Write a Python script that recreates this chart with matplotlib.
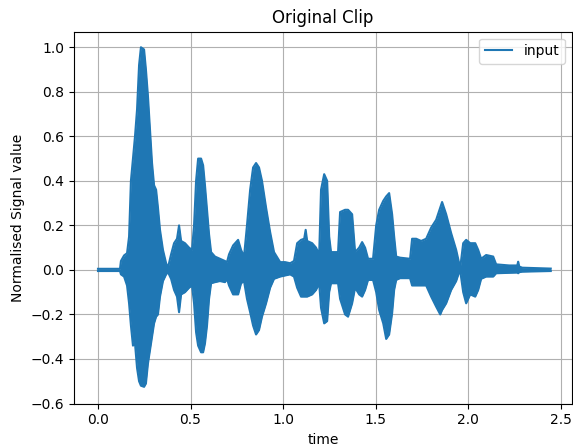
import matplotlib
matplotlib.use("Agg")
import matplotlib.pyplot as plt
import numpy as np

# Envelope of the audio clip (time in s, upper / lower normalised value)
time = [0.000, 0.119, 0.124, 0.141, 0.157, 0.168, 0.178, 0.189, 0.200, 0.211,
        0.222, 0.232, 0.249, 0.259, 0.270, 0.281, 0.292, 0.303, 0.314, 0.324,
        0.335, 0.351, 0.368, 0.378, 0.395, 0.411, 0.427, 0.438, 0.449, 0.470,
        0.492, 0.508, 0.519, 0.530, 0.541, 0.557, 0.568, 0.578, 0.589, 0.600,
        0.611, 0.632, 0.659, 0.686, 0.697, 0.708, 0.730, 0.757, 0.773, 0.789,
        0.805, 0.822, 0.838, 0.854, 0.870, 0.886, 0.908, 0.930, 0.951, 0.984,
        1.011, 1.038, 1.059, 1.076, 1.097, 1.114, 1.122, 1.130, 1.157, 1.178,
        1.195, 1.205, 1.222, 1.238, 1.249, 1.259, 1.297, 1.308, 1.335, 1.351,
        1.373, 1.389, 1.411, 1.427, 1.443, 1.459, 1.486, 1.503, 1.519, 1.541,
        1.557, 1.573, 1.589, 1.600, 1.611, 1.632, 1.686, 1.697, 1.719, 1.746,
        1.773, 1.800, 1.827, 1.849, 1.859, 1.881, 1.908, 1.935, 1.951, 1.957,
        1.973, 1.989, 2.011, 2.038, 2.054, 2.070, 2.097, 2.135, 2.151, 2.222,
        2.265, 2.270, 2.276, 2.292, 2.446]
upper = [0.005, 0.005, 0.040, 0.065, 0.075, 0.150, 0.400, 0.500, 0.600, 0.720,
         0.920, 1.000, 0.990, 0.900, 0.780, 0.630, 0.480, 0.380, 0.360, 0.280,
         0.180, 0.090, 0.030, 0.010, 0.070, 0.120, 0.140, 0.200, 0.130, 0.120,
         0.100, 0.090, 0.200, 0.400, 0.500, 0.500, 0.470, 0.380, 0.270, 0.160,
         0.080, 0.060, 0.050, 0.040, 0.035, 0.070, 0.110, 0.135, 0.090, 0.060,
         0.200, 0.360, 0.460, 0.480, 0.460, 0.400, 0.280, 0.170, 0.080, 0.035,
         0.035, 0.030, 0.040, 0.120, 0.135, 0.140, 0.180, 0.130, 0.120, 0.100,
         0.070, 0.360, 0.430, 0.400, 0.150, 0.080, 0.080, 0.260, 0.270, 0.270,
         0.250, 0.080, 0.100, 0.125, 0.100, 0.050, 0.050, 0.200, 0.270, 0.310,
         0.330, 0.345, 0.250, 0.150, 0.060, 0.055, 0.050, 0.140, 0.140, 0.130,
         0.140, 0.190, 0.225, 0.280, 0.305, 0.250, 0.165, 0.090, 0.030, 0.010,
         0.120, 0.135, 0.120, 0.120, 0.090, 0.050, 0.067, 0.060, 0.025, 0.020,
         0.020, 0.037, 0.015, 0.010, 0.006]
lower = [-0.005, -0.005, -0.020, -0.030, -0.070, -0.150, -0.250, -0.340, -0.330, -0.440,
         -0.500, -0.520, -0.525, -0.510, -0.420, -0.360, -0.300, -0.240, -0.210, -0.200,
         -0.120, -0.050, -0.020, -0.010, -0.040, -0.090, -0.120, -0.190, -0.110, -0.100,
         -0.080, -0.070, -0.150, -0.280, -0.340, -0.370, -0.370, -0.330, -0.250, -0.130,
         -0.060, -0.055, -0.050, -0.055, -0.040, -0.070, -0.110, -0.110, -0.060, -0.050,
         -0.130, -0.190, -0.250, -0.290, -0.270, -0.210, -0.150, -0.080, -0.040, -0.030,
         -0.025, -0.020, -0.030, -0.080, -0.120, -0.120, -0.120, -0.120, -0.110, -0.090,
         -0.060, -0.170, -0.240, -0.230, -0.100, -0.060, -0.060, -0.130, -0.200, -0.210,
         -0.150, -0.080, -0.110, -0.120, -0.090, -0.045, -0.045, -0.100, -0.180, -0.240,
         -0.310, -0.290, -0.195, -0.090, -0.045, -0.037, -0.037, -0.070, -0.070, -0.070,
         -0.070, -0.120, -0.165, -0.200, -0.180, -0.150, -0.090, -0.050, -0.010, -0.005,
         -0.100, -0.150, -0.110, -0.120, -0.090, -0.040, -0.030, -0.030, -0.015, -0.013,
         -0.012, -0.015, -0.010, -0.008, -0.005]

series_label = "input"
title = "Original Clip"
xlabel = "time"
ylabel = "Normalised Signal value"

fig = plt.figure(figsize=(5.73, 4.48), dpi=100)
ax = fig.add_axes([0.129, 0.0993, 0.869, 0.830])

color = "#1f77b4"
ax.fill_between(time, lower, upper, color=color, linewidth=0, zorder=2)
ax.plot(time, upper, color=color, linewidth=1.5, label=series_label, zorder=2)
ax.plot(time, lower, color=color, linewidth=1.5, zorder=2)

ax.set_xlim(-0.13, 2.56)
ax.set_ylim(-0.6, 1.07)
ax.set_xticks([0.0, 0.5, 1.0, 1.5, 2.0, 2.5])
ax.set_yticks([-0.6, -0.4, -0.2, 0.0, 0.2, 0.4, 0.6, 0.8, 1.0])
ax.grid(True, zorder=1)
ax.set_title(title)
ax.set_xlabel(xlabel)
ax.set_ylabel(ylabel)
ax.legend(loc="upper right")

fig.savefig("out.png", dpi=100)
